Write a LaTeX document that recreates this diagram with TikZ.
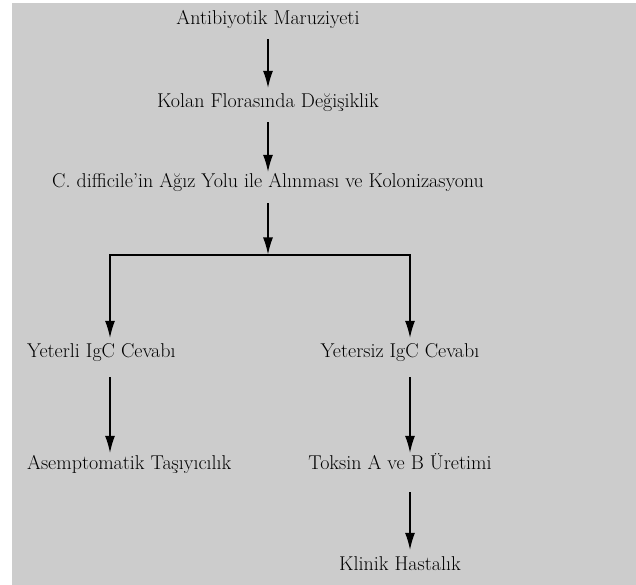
\documentclass[tikz,border=0pt]{standalone}
\usepackage{fontspec}
\usetikzlibrary{arrows.meta,positioning}
\tikzstyle{stage} = [text centered, inner sep=0pt, text height=14pt, text depth=4pt,
    font=\fontsize{20}{24}\selectfont]
\tikzstyle{line} = [draw, line width=1.2pt, -{Latex[length=17pt,width=10pt]}]

\begin{document}
\begin{tikzpicture}[node distance = 80pt, x=1pt, y=1pt]
    % Background
    \useasboundingbox (0,0) rectangle (636,-585);
    \fill [black!20] (12,-3) rectangle (636,-585);
    % Place nodes
    \node [stage] (anti) at (268,-20) {Antibiyotik Maruziyeti};
    \node [stage, below of=anti, node distance=83pt] (kolan) {Kolan Florasında Değişiklik};
    \node [stage, below of=kolan] (cdiff) {C. difficile’in Ağız Yolu ile Alınması ve Kolonizasyonu};
    \node [stage, anchor=west] (yeterli) at (27,-352) {Yeterli IgC Cevabı};
    \node [stage] (yetersiz) at (400,-352) {Yetersiz IgC Cevabı};
    \node [stage, anchor=west] (asemp) at (27,-464) {Asemptomatik Taşıyıcılık};
    \node [stage, below of=yetersiz, node distance=112pt] (toksin) {Toksin A ve B Üretimi};
    \node [stage, below of=toksin, node distance=101pt] (klinik) {Klinik Hastalık};
    \coordinate (split) at (268,-255);
    \coordinate (lsplit) at (110,-255);
    \coordinate (rsplit) at (410,-255);
    % Draw edges
    \path [line, shorten <=10pt, shorten >=6pt] (anti.south) -- (kolan.north);
    \path [line, shorten <=10pt, shorten >=2pt] (kolan.south) -- (cdiff.north);
    \path [line, shorten <=11pt, shorten >=0.6pt] (cdiff.south) -- (split);
    \draw [line width=1.2pt, line cap=rect] (lsplit) -- (rsplit);
    \path [line, shorten >=5pt] (lsplit) -- (lsplit |- yeterli.north);
    \path [line, shorten >=5pt] (rsplit) -- (rsplit |- yetersiz.north);
    \path [line, shorten <=16pt, shorten >=2pt] (lsplit |- yeterli.south) -- (lsplit |- asemp.north);
    \path [line, shorten <=16pt, shorten >=2pt] (rsplit |- yetersiz.south) -- (rsplit |- toksin.north);
    \path [line, shorten <=19pt, shorten >=6pt] (rsplit |- toksin.south) -- (rsplit |- klinik.north);
\end{tikzpicture}
\end{document}
